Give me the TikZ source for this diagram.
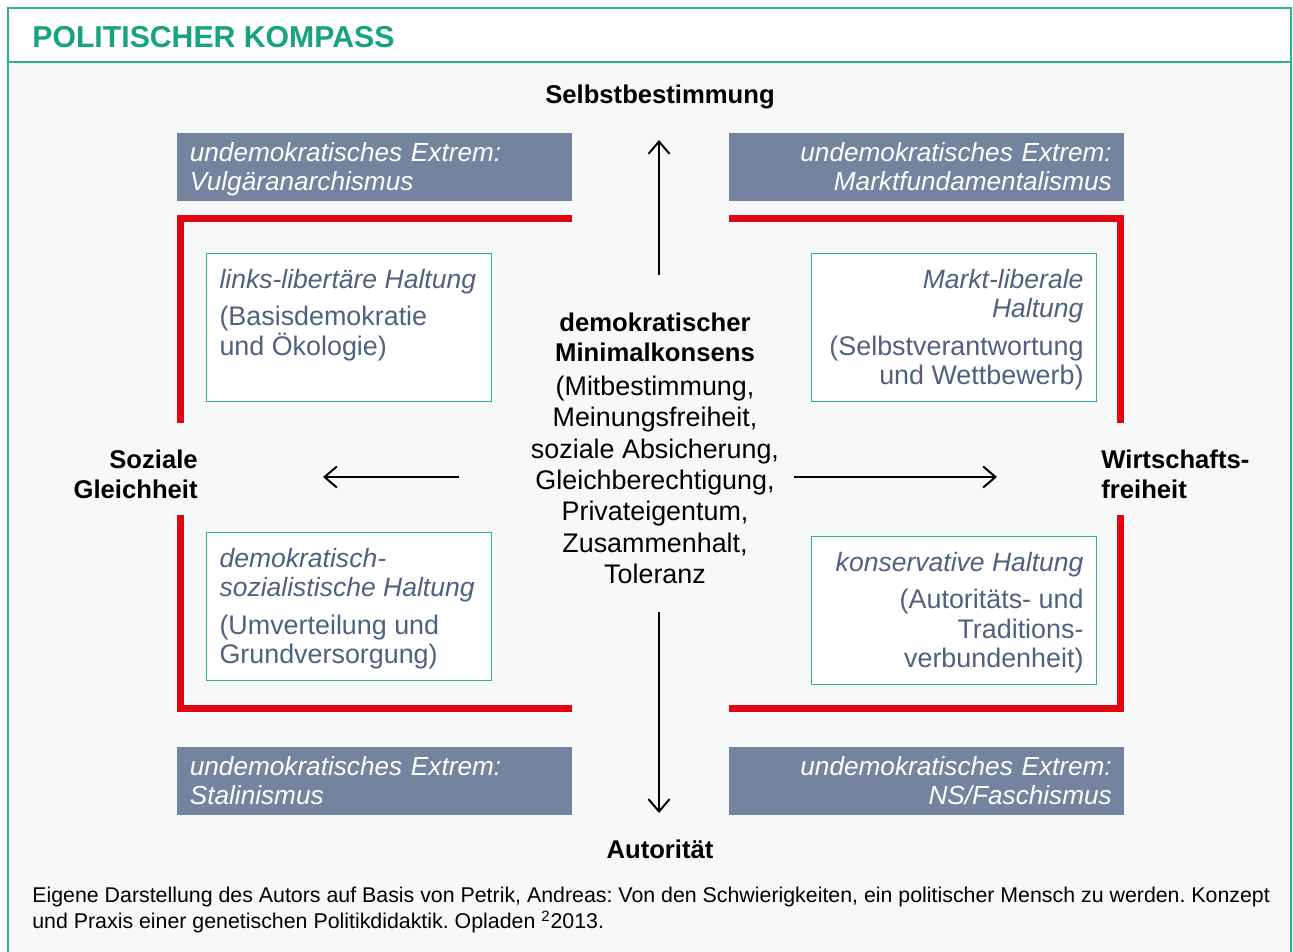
\documentclass[tikz,border=0pt]{standalone}
\usepackage{fontspec}
\setmainfont{Liberation Sans}
\usepackage{xcolor}
\usepackage{tikz}
\usetikzlibrary{arrows.meta}
\frenchspacing

\definecolor{kompassgreen}{RGB}{22,163,125}
\definecolor{framegreen}{RGB}{44,178,143}
\definecolor{extremgray}{RGB}{116,132,159}
\definecolor{haltungblue}{RGB}{78,97,128}
\definecolor{kompassred}{RGB}{226,6,19}
\definecolor{bodybg}{RGB}{246,249,248}

\tikzset{
    extrem/.style={fill=extremgray, text=white, font=\fontsize{14.9}{16.4}\selectfont\itshape,
        minimum width=7.9cm, minimum height=1.36cm, text width=7.4cm,
        execute at begin node={\rule{0pt}{13.2pt}},
        execute at end node={\rule[-3.2pt]{0pt}{3.2pt}},
        inner xsep=0.25cm, inner ysep=0pt, anchor=north west},
    haltung/.style={draw=framegreen, fill=white, line width=0.6pt, text=haltungblue,
        font=\fontsize{15.3}{16.8}\selectfont, inner sep=0.26cm, anchor=north west},
    achse/.style={font=\fontsize{14.6}{16.6}\selectfont\bfseries, inner sep=0pt},
    grenze/.style={draw=kompassred, line width=0.14cm},
    pfeil/.style={line width=0.04cm, -{Straight Barb[length=7pt,width=12pt]}},
}

\newcommand{\haltungtext}[3]{\parbox[c][2.44cm][t]{5.18cm}{\vspace*{1.4pt}#1{\fontsize{15.1}{16.8}\selectfont\itshape #2\par}\vspace{4.5pt}#3}}

\begin{document}
\begin{tikzpicture}[x=0.02cm, y=-0.02cm]
            \useasboundingbox (0,0) rectangle (1293,952);

            % frame and title bar
            \fill[bodybg] (8,8) rectangle (1291,960);
            \fill[white] (8,8) rectangle (1291,62);
            \draw[framegreen, line width=0.04cm] (8,62) -- (1291,62);
            \draw[framegreen, line width=0.04cm] (8,960) -- (8,8) -- (1291,8) -- (1291,960);
            \node[anchor=west, inner sep=0pt, text=kompassgreen, font=\fontsize{17.2}{20}\selectfont\bfseries] (titel) at (32,37) {POLITISCHER KOMPASS};

            % undemocratic extremes
            \node[extrem, align=left] (vulgaer) at (177,133) {undemokratisches Extrem:\\Vulgäranarchismus};
            \node[extrem, align=right] (markt) at (729,133) {undemokratisches Extrem:\\Marktfundamentalismus};
            \node[extrem, align=left] (stalin) at (177,747) {undemokratisches Extrem:\\Stalinismus};
            \node[extrem, align=right] (ns) at (729,747) {undemokratisches Extrem:\\NS/Faschismus};

            % red borders
            \draw[grenze] (572,219) -- (180.5,219) -- (180.5,423); % top left
            \draw[grenze] (180.5,515) -- (180.5,708.5) -- (572,708.5); % bottom left
            \draw[grenze] (729,219) -- (1120.5,219) -- (1120.5,423); % top right
            \draw[grenze] (1120.5,515) -- (1120.5,708.5) -- (729,708.5); % bottom right

            % democratic attitudes
            \node[haltung] (linkslib) at (206,253) {\haltungtext{\raggedright}{links-libertäre Haltung}{(Basisdemokratie\\und Ökologie)}};
            \node[haltung] (marktlib) at (811,253) {\haltungtext{\raggedleft}{Markt-liberale\\Haltung}{(Selbstverantwortung\\und Wettbewerb)}};
            \node[haltung] (demsoz) at (206,532) {\haltungtext{\raggedright}{demokratisch-\\sozialistische Haltung}{(Umverteilung und\\Grundversorgung)}};
            \node[haltung] (konserv) at (811,536) {\haltungtext{\raggedleft}{konservative Haltung}{(Autoritäts- und\\Traditions-\\verbundenheit)}};

            % centre
            \node[align=center, anchor=north, inner sep=0pt, font=\fontsize{15.3}{17.8}\selectfont] (konsens) at (655,313)
                {\fontsize{14.6}{17.8}\selectfont\textbf{demokratischer}\\[-0.8pt]\fontsize{14.6}{17.8}\selectfont\textbf{Minimalkonsens}\\[1.5pt](Mitbestimmung,\\Meinungsfreiheit,\\soziale Absicherung,\\Gleichberechtigung,\\Privateigentum,\\Zusammenhalt,\\Toleranz};

            % axis labels
            \node[achse, anchor=base] (selbst) at (660,104) {Selbstbestimmung};
            \node[achse, anchor=base] (autoritaet) at (660,858) {Autorität};
            \node[achse, align=right, anchor=north east] (gleich) at (198,450) {Soziale\\Gleichheit};
            \node[achse, align=left, anchor=north west] (freiheit) at (1101,450) {Wirtschafts-\\freiheit};

            % arrows
            \coordinate (obenA) at (659,275);
            \coordinate (obenB) at (659,140);
            \coordinate (untenA) at (659,612);
            \coordinate (untenB) at (659,813);
            \coordinate (linksA) at (459,477);
            \coordinate (linksB) at (323,477);
            \coordinate (rechtsA) at (794,477);
            \coordinate (rechtsB) at (997,477);
            \draw[pfeil] (obenA) -- (obenB); % up
            \draw[pfeil] (untenA) -- (untenB); % down
            \draw[pfeil] (linksA) -- (linksB); % left
            \draw[pfeil] (rechtsA) -- (rechtsB); % right

            % source
            \node[anchor=north west, align=left, inner sep=0pt, font=\fontsize{12.15}{14.7}\selectfont] (quelle) at (32,887)
                {Eigene Darstellung des Autors auf Basis von Petrik, Andreas: Von den Schwierigkeiten, ein politischer Mensch zu werden. Konzept\\und Praxis einer genetischen Politikdidaktik. Opladen \textsuperscript{2}2013.};
        \end{tikzpicture}
\end{document}
